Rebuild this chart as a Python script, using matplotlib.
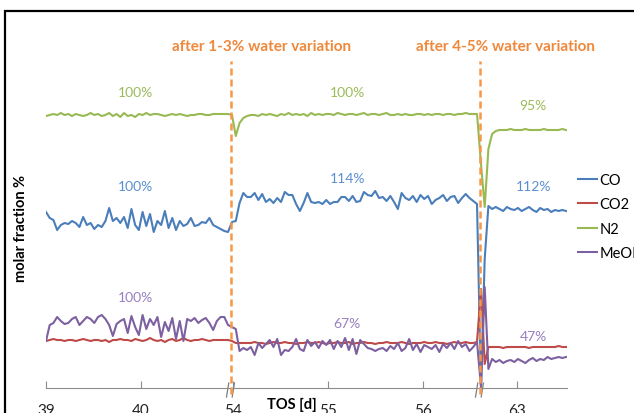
import numpy as np
import matplotlib.pyplot as plt
from matplotlib.patches import Rectangle

plt.rcParams['font.family'] = ['Lato', 'DejaVu Sans']

# TOS [d] ranges covered by each of the three segments of the broken axis
seg_ranges = [(39.0, 40.916), (53.99, 56.569), (62.621, 63.516)]

# molar fraction (arbitrary units), one list per segment
co_a = [17.6, 17.0, 16.8, 15.8, 16.3, 16.5, 16.4, 16.7, 16.5, 16.1, 17.1, 16.3, 16.5, 15.9, 16.3, 16.1, 16.7,
        18.0, 16.7, 17.0, 16.5, 17.1, 16.0, 17.9, 16.3, 15.8, 17.6, 16.2, 17.4, 15.6, 16.7, 16.3, 17.7, 16.0,
        17.0, 15.8, 16.7, 16.2, 16.4, 17.0, 16.2, 16.3, 16.6, 16.5, 17.0, 16.3, 16.1, 15.9, 15.7, 15.6]
co_b = [16.6, 16.7, 18.5, 19.5, 19.1, 19.1, 19.5, 18.8, 19.4, 18.6, 18.9, 18.5, 19.0, 18.6, 19.6, 19.3, 19.3,
        18.4, 17.7, 18.5, 19.5, 18.6, 18.5, 18.6, 18.4, 18.8, 18.4, 18.6, 18.6, 19.1, 19.1, 18.7, 19.2, 18.6,
        18.7, 19.6, 19.3, 19.2, 19.7, 19.0, 19.1, 18.7, 19.2, 18.6, 17.9, 19.5, 19.0, 18.8, 19.2, 18.6, 19.3,
        18.9, 19.2, 18.4, 18.8, 19.0, 19.3, 18.7, 19.1, 19.2, 18.5, 19.0, 19.4, 19.0, 18.7, 18.4]
co_c = [0.1, 12.9, 18.2, 17.9, 18.1, 17.9, 17.7, 18.1, 17.9, 17.8, 18.0, 17.7, 17.9, 18.1, 17.8, 17.6, 18.0,
        17.8, 17.9, 17.6, 17.8, 17.7, 17.8, 17.7]

co2_a = [4.7, 4.8, 4.9, 4.8, 4.8, 4.7, 4.8, 4.8, 4.7, 4.8, 4.9, 4.8, 4.7, 4.8, 4.8, 4.7, 4.8, 4.6, 4.8, 4.8,
         4.9, 4.8, 4.8, 4.7, 4.9, 4.8, 4.7, 4.8, 5.0, 4.8, 4.7, 4.8, 4.6, 4.8, 4.9, 4.7, 4.8, 5.0, 4.8, 4.7,
         4.8, 4.8, 4.9, 4.8, 4.7, 4.8, 4.8, 4.8, 4.8, 4.8]
co2_b = [4.7, 4.5, 4.5, 4.5, 4.5, 4.5, 4.6, 4.5, 4.5, 4.4, 4.5, 4.6, 4.5, 4.5, 4.6, 4.5, 4.5, 4.4, 4.5, 4.5,
         4.6, 4.5, 4.5, 4.6, 4.5, 4.4, 4.5, 4.5, 4.6, 4.5, 4.5, 4.6, 4.4, 4.5, 4.5, 4.6, 4.5, 4.5, 4.4, 4.5,
         4.5, 4.6, 4.5, 4.5, 4.5, 4.6, 4.5, 4.4, 4.5, 4.5, 4.5, 4.6, 4.5, 4.5, 4.6, 4.5, 4.5, 4.4, 4.5, 4.6,
         4.5, 4.5, 4.6, 4.5, 4.5, 4.6]
co2_c = [9.9, 2.4, 4.1, 4.1, 4.1, 4.1, 4.0, 4.1, 4.1, 4.1, 4.1, 4.1, 4.1, 4.0, 4.1, 4.1, 4.1, 4.1, 4.1, 4.1,
         4.1, 4.2, 4.1, 4.1]

n2_a = [27.2, 27.3, 27.4, 27.3, 27.5, 27.3, 27.4, 27.2, 27.4, 27.3, 27.2, 27.3, 27.5, 27.3, 27.4, 27.2, 27.3,
        27.5, 27.2, 27.4, 27.1, 27.5, 27.2, 27.3, 27.1, 27.4, 27.3, 27.5, 27.3, 27.4, 27.4, 27.3, 27.2, 27.3,
        27.4, 27.3, 27.4, 27.3, 27.2, 27.3, 27.3, 27.4, 27.4, 27.3, 27.3, 27.4, 27.4, 27.4, 27.4, 27.4]
n2_b = [27.3, 25.2, 26.5, 27.0, 27.2, 27.3, 27.3, 27.2, 27.4, 27.3, 27.4, 27.3, 27.2, 27.4, 27.3, 27.5, 27.3,
        27.4, 27.3, 27.4, 27.2, 27.5, 27.3, 27.4, 27.3, 27.4, 27.4, 27.3, 27.5, 27.4, 27.3, 27.4, 27.4, 27.3,
        27.4, 27.5, 27.3, 27.4, 27.4, 27.3, 27.4, 27.5, 27.3, 27.3, 27.4, 27.3, 27.4, 27.3, 27.3, 27.4, 27.4,
        27.3, 27.4, 27.3, 27.4, 27.4, 27.3, 27.4, 27.4, 27.3, 27.4, 27.4, 27.5, 27.4, 27.4, 27.4]
n2_c = [22.4, 18.1, 23.9, 25.4, 25.7, 25.8, 25.8, 25.8, 25.9, 25.8, 25.8, 25.8, 25.9, 25.8, 25.8, 25.8, 25.8,
        25.9, 25.8, 25.8, 25.8, 25.8, 25.9, 25.8]

meoh_a = [4.7, 6.3, 6.5, 7.1, 6.7, 6.4, 6.5, 6.9, 7.1, 6.3, 6.7, 7.1, 6.9, 6.5, 7.1, 7.3, 6.9, 6.3, 5.2, 6.4,
          6.7, 6.9, 5.5, 7.2, 6.1, 5.3, 7.3, 5.9, 6.9, 6.3, 7.1, 5.1, 6.6, 5.7, 7.0, 4.9, 6.7, 4.7, 6.9, 6.7,
          7.0, 6.5, 6.8, 7.0, 6.5, 5.8, 6.7, 7.1, 7.1, 6.3]
meoh_b = [6.1, 5.9, 3.7, 4.0, 3.8, 4.1, 3.3, 4.5, 4.0, 4.4, 4.8, 4.1, 4.9, 3.3, 3.8, 3.7, 4.1, 4.9, 3.9, 3.7,
          4.8, 4.2, 4.6, 4.0, 4.7, 4.3, 4.8, 3.9, 4.7, 4.1, 5.0, 3.8, 4.9, 3.4, 4.8, 4.4, 4.0, 3.9, 3.7, 3.9,
          4.0, 3.7, 4.2, 3.9, 4.5, 3.7, 4.0, 4.9, 3.8, 4.4, 3.6, 4.3, 4.1, 3.9, 4.3, 3.6, 4.4, 4.0, 4.5, 3.9,
          4.7, 4.1, 4.4, 3.7, 4.1, 4.6]
meoh_c = [0.1, 10.1, 1.9, 2.9, 2.6, 2.8, 2.5, 2.7, 2.8, 2.6, 2.9, 2.7, 2.5, 2.8, 3.0, 2.7, 2.9, 2.8, 3.1, 2.9,
          3.0, 3.1, 3.0, 3.1]

series_names = ['CO', 'CO2', 'N2', 'MeOH']
series_data = [(co_a, co_b, co_c), (co2_a, co2_b, co2_c), (n2_a, n2_b, n2_c), (meoh_a, meoh_b, meoh_c)]
colors = ['#4A7EBB', '#BE4B48', '#98B954', '#7D60A0']

tick_tos = [39, 40, 54, 55, 56, 63]
tick_labels = ['39', '40', '54', '55', '56', '63']

# percentage labels per segment (CO, N2, MeOH)
pct_n2 = ['100%', '100%', '95%']
pct_co = ['100%', '114%', '112%']
pct_meoh = ['100%', '67%', '47%']
events = ['after 1-3% water variation', 'after 4-5% water variation']

# broken axis: where each segment's anchor TOS sits on the drawn axis
seg_anchor_tos = [39, 54, 63]
seg_anchor_pos = [39.0, 40.968, 43.958]
breaks = [40.947, 43.568]


def to_pos(t, seg):
    return np.asarray(t, dtype=float) - seg_anchor_tos[seg] + seg_anchor_pos[seg]


def seg_of(t):
    return 0 if t < 50 else (1 if t < 60 else 2)


fig = plt.figure(figsize=(6.34, 4.14), dpi=100)
ax = fig.add_axes([46 / 634, 25 / 414, 521 / 634, 375 / 414])

for name, segs, col in zip(series_names, series_data, colors):
    xs, ys = [], []
    for i, vals in enumerate(segs):
        t = np.linspace(seg_ranges[i][0], seg_ranges[i][1], len(vals))
        xs.append(to_pos(t, i))
        ys.append(np.array(vals))
    ax.plot(np.concatenate(xs), np.concatenate(ys), color=col, lw=1.5, label=name)

ax.set_xlim(39, 39 + 521 / 95)
ax.set_ylim(0, 37.5)
for s in ['left', 'top', 'right']:
    ax.spines[s].set_visible(False)
ax.spines['bottom'].set_color('#8c8c8c')
ax.set_yticks([])
ax.set_xticks([float(to_pos(t, seg_of(t))) for t in tick_tos])
ax.set_xticklabels(tick_labels)
ax.tick_params(axis='x', direction='in', length=5, color='#8c8c8c', pad=11, labelsize=11,
               labelcolor='#222222')

# water variation markers
for bp, txt in zip(breaks, events):
    ax.plot([bp, bp], [-0.6, 32.7], color='#F79646', lw=1.8, ls=(0, (2.8, 1.6)), clip_on=False, zorder=4)
    for dx in (-0.035, 0.025):
        ax.plot([bp + dx - 0.012, bp + dx + 0.012], [-0.9, 0.5], color='#7f7f7f', lw=0.9, clip_on=False)
ax.text(41.274, 34.2, events[0], color='#F0883A', fontsize=11, fontweight='bold', ha='center', va='center')
ax.text(43.832, 34.2, events[1], color='#F0883A', fontsize=11, fontweight='bold', ha='center', va='center')

label_x = [39.937, 42.17, 44.13]
for i in range(3):
    ax.text(label_x[i], [29.6, 29.6, 28.3][i], pct_n2[i], color='#9BBB59', fontsize=10, ha='center', va='center')
    ax.text(label_x[i], [20.2, 21.0, 20.2][i], pct_co[i], color='#5B8FD0', fontsize=10, ha='center', va='center')
    ax.text(label_x[i], [9.1, 6.5, 5.2][i], pct_meoh[i], color='#9780C0', fontsize=10, ha='center', va='center')

ax.text(39 + (292 - 46) / 95, -1.6, 'TOS [d]', fontsize=10.5, fontweight='bold', ha='center', va='center')
fig.text(21 / 634, 1 - 228 / 414, 'molar fraction %', rotation=90, fontsize=10.5, fontweight='bold',
         ha='center', va='center')

ax.legend(loc='upper left', bbox_to_anchor=(578 / 634, 1 - 174 / 414), bbox_transform=fig.transFigure,
          frameon=False, handlelength=1.3, handletextpad=0.15, labelspacing=0.72, fontsize=10.5,
          borderpad=0, borderaxespad=0)

fig.add_artist(Rectangle((5 / 634, -0.05), 1.0, 1.05 - 12 / 414, transform=fig.transFigure,
                         fill=False, ec='black', lw=1.6))

fig.savefig('out.png', dpi=100)
